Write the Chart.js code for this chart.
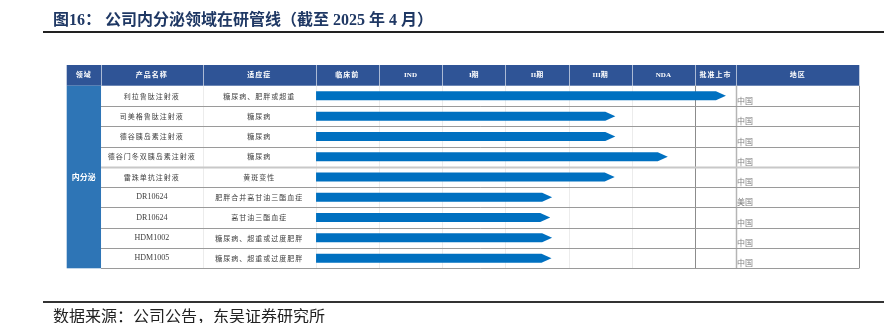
<!DOCTYPE html>
<html>
<head>
<meta charset="utf-8">
<script src="https://cdn.jsdelivr.net/npm/chart.js@4"></script>
<style>
  html, body { margin: 0; padding: 0; background: #fff; }
  #wrap { position: relative; width: 894px; height: 323px; overflow: hidden; }
  #title { position: absolute; left: 53px; top: 6px; font: bold 16px "Liberation Serif", "Noto Sans CJK SC"; color: #1f3864; white-space: nowrap; }
  #line1 { position: absolute; left: 43px; top: 31px; width: 841px; height: 2px; background: #222; }
  #line2 { position: absolute; left: 43px; top: 301px; width: 841px; height: 2px; background: #333; }
  #foot { position: absolute; left: 53px; top: 303px; font: 16px "Noto Sans CJK SC"; color: #222; white-space: nowrap; }
  #c { position: absolute; left: 0; top: 0; }
</style>
</head>
<body>
<div id="wrap">
  <canvas id="c" width="894" height="323"></canvas>
  <div id="title">图16： 公司内分泌领域在研管线（截至 2025 年 4 月）</div>
  <div id="line1"></div>
  <div id="line2"></div>
  <div id="foot">数据来源：公司公告，东吴证券研究所</div>
</div>
<script>
const headers = ['领域', '产品名称', '适应症', '临床前', 'IND', 'I期', 'II期', 'III期', 'NDA', '批准上市', '地区'];
const field = '内分泌';
const products = ['利拉鲁肽注射液', '司美格鲁肽注射液', '德谷胰岛素注射液', '德谷门冬双胰岛素注射液', '雷珠单抗注射液', 'DR10624', 'DR10624', 'HDM1002', 'HDM1005'];
const indications = ['糖尿病、肥胖或超重', '糖尿病', '糖尿病', '糖尿病', '黄斑变性', '肥胖合并高甘油三酯血症', '高甘油三酯血症', '糖尿病、超重或过度肥胖', '糖尿病、超重或过度肥胖'];
const regions = ['中国', '中国', '中国', '中国', '中国', '美国', '中国', '中国', '中国'];
// progress in phase units (0 = start of 临床前, each phase = 1)
const progress = [6.49, 4.74, 4.74, 5.57, 4.73, 3.74, 3.71, 3.74, 3.73];

// column edges in the same phase units
const colEdges = [-3.94, -3.397, -1.788, 0, 1, 2, 3, 4, 5, 6, 6.65, 8.6];

const HEAD_TOP = 65;
const BLUE_HEAD = '#2f5496';
const BLUE_FIELD = '#2e75b6';
const BAR = '#0070c0';

const tablePlugin = {
  id: 'table',
  beforeDatasetsDraw(chart) {
    const ctx = chart.ctx;
    const xs = chart.scales.x, ys = chart.scales.y;
    const area = chart.chartArea;
    const px = v => xs.getPixelForValue(v);
    const edges = colEdges.map(px);
    const n = products.length;
    const rowH = (area.bottom - area.top) / n;
    ctx.save();

    // header
    ctx.fillStyle = BLUE_HEAD;
    ctx.fillRect(edges[0], HEAD_TOP, edges[edges.length - 1] - edges[0], area.top - HEAD_TOP);
    ctx.strokeStyle = 'rgba(255,255,255,0.6)';
    ctx.lineWidth = 1;
    for (let i = 1; i < edges.length - 1; i++) {
      ctx.beginPath();
      ctx.moveTo(Math.round(edges[i]) + 0.5, HEAD_TOP);
      ctx.lineTo(Math.round(edges[i]) + 0.5, area.top);
      ctx.stroke();
    }
    ctx.fillStyle = '#fff';
    ctx.textAlign = 'center';
    ctx.textBaseline = 'middle';
    ctx.font = 'bold 7px "Liberation Serif", "Noto Sans CJK SC"';
    headers.forEach((h, i) => {
      ctx.letterSpacing = /[A-Z]/.test(h) ? '0px' : '1px';
      ctx.fillText(h, (edges[i] + edges[i + 1]) / 2, (HEAD_TOP + area.top) / 2);
    });

    // field column
    ctx.letterSpacing = '0px';
    ctx.fillStyle = BLUE_FIELD;
    ctx.fillRect(edges[0], area.top, edges[1] - edges[0], area.bottom - area.top);
    ctx.fillStyle = '#fff';
    ctx.font = 'bold 8px "Noto Sans CJK SC"';
    ctx.fillText(field, (edges[0] + edges[1]) / 2, (area.top + area.bottom) / 2);

    // faint vertical lines in phase area
    ctx.strokeStyle = '#ececec';
    for (let i = 2; i <= 9; i++) {
      ctx.beginPath();
      ctx.moveTo(Math.round(edges[i]) + 0.5, area.top);
      ctx.lineTo(Math.round(edges[i]) + 0.5, area.bottom);
      ctx.stroke();
    }
    // darker vertical lines
    ctx.strokeStyle = '#8c8c8c';
    [9, 11].forEach(i => {
      ctx.beginPath();
      ctx.moveTo(Math.round(edges[i]) + 0.5, area.top);
      ctx.lineTo(Math.round(edges[i]) + 0.5, area.bottom);
      ctx.stroke();
    });
    ctx.strokeStyle = '#b5b5b5';
    ctx.lineWidth = 1.5;
    ctx.beginPath();
    ctx.moveTo(Math.round(edges[10]) + 0.5, area.top);
    ctx.lineTo(Math.round(edges[10]) + 0.5, area.bottom);
    ctx.stroke();

    // horizontal row lines
    for (let r = 1; r <= n; r++) {
      const y = Math.round(area.top + r * rowH) + 0.5;
      ctx.strokeStyle = r === 4 ? '#c8c8c8' : '#9a9a9a';
      ctx.lineWidth = r === 4 ? 2 : 1;
      ctx.beginPath();
      ctx.moveTo(edges[1], y);
      ctx.lineTo(edges[edges.length - 1], y);
      ctx.stroke();
    }

    // row texts
    products.forEach((p, r) => {
      const yc = ys.getPixelForValue(r);
      ctx.fillStyle = '#404040';
      ctx.textAlign = 'center';
      ctx.textBaseline = 'middle';
      const latin = /^[A-Z]/.test(p);
      ctx.letterSpacing = latin ? '0px' : '1px';
      ctx.font = latin ? '8px "Liberation Serif"' : '7px "Noto Sans CJK SC"';
      ctx.fillText(p, (edges[1] + edges[2]) / 2, yc);
      ctx.letterSpacing = '1px';
      ctx.font = '7px "Noto Sans CJK SC"';
      ctx.fillText(indications[r], (edges[2] + edges[3]) / 2, yc);
      ctx.letterSpacing = '0px';
      ctx.fillStyle = '#808080';
      ctx.textAlign = 'left';
      ctx.textBaseline = 'alphabetic';
      ctx.font = '8px "Noto Sans CJK SC"';
      ctx.fillText(regions[r], edges[10] + 1, area.top + (r + 1) * rowH - 2);
    });
    ctx.restore();
  },
  afterDatasetsDraw(chart) {
    const ctx = chart.ctx;
    const meta = chart.getDatasetMeta(0);
    ctx.save();
    ctx.fillStyle = BAR;
    meta.data.forEach(el => {
      const { x, y, base, height } = el.getProps(['x', 'y', 'base', 'height'], true);
      const head = 10;
      const h2 = height / 2;
      ctx.beginPath();
      ctx.moveTo(base, y - h2);
      ctx.lineTo(x - head, y - h2);
      ctx.lineTo(x, y);
      ctx.lineTo(x - head, y + h2);
      ctx.lineTo(base, y + h2);
      ctx.closePath();
      ctx.fill();
    });
    ctx.restore();
  }
};

new Chart(document.getElementById('c'), {
  type: 'bar',
  data: {
    labels: products,
    datasets: [{
      data: progress.map(v => [0.005, v]),
      backgroundColor: 'rgba(0,0,0,0)',
      borderWidth: 0,
      barThickness: 9
    }]
  },
  options: {
    indexAxis: 'y',
    responsive: false,
    animation: false,
    layout: { padding: { left: 66.7, right: 34.7, top: 85.7, bottom: 54.7 } },
    plugins: { legend: { display: false }, tooltip: { enabled: false } },
    scales: {
      x: { type: 'linear', min: colEdges[0], max: colEdges[colEdges.length - 1], display: false },
      y: { display: false, offset: true }
    }
  },
  plugins: [tablePlugin]
});
</script>
</body>
</html>
